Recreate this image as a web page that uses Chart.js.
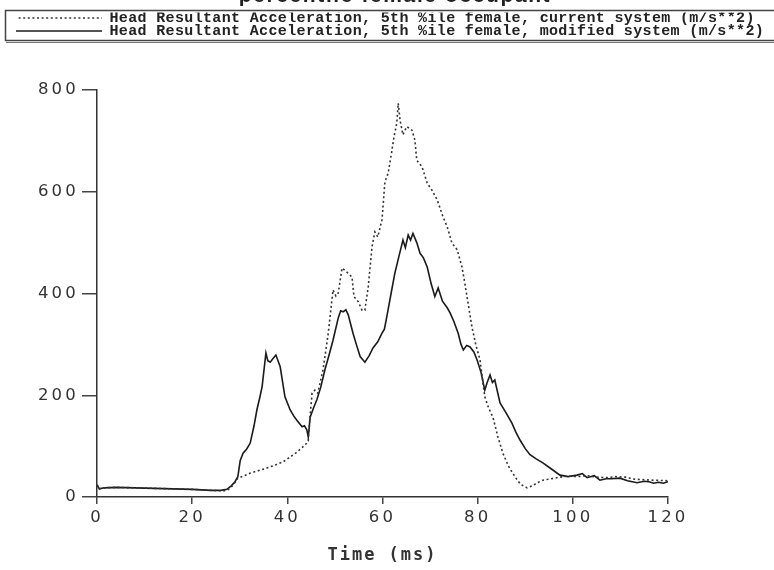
<!DOCTYPE html>
<html><head><meta charset="utf-8">
<script src="https://cdn.jsdelivr.net/npm/chart.js@4.4.1/dist/chart.umd.min.js"></script>
<style>html,body{margin:0;padding:0;background:#fff;}#wrap{width:774px;height:570px;position:relative;}</style>
</head><body><div id="wrap"><canvas id="c" width="774" height="570"></canvas></div>
<script>
const titleText = 'percentile female occupant';
const seriesLabels = [
  'Head Resultant Acceleration, 5th %ile female, current system (m/s**2)',
  'Head Resultant Acceleration, 5th %ile female, modified system (m/s**2)'
];
const xAxisTitle = 'Time (ms)';
const xTickRange = [0, 120, 20];
const yTickRange = [0, 800, 200];

const currentTime = [0,0.5,1.5,4,8,12,16,20,24,26.5,27.5,28.5,29.6,31,32.2,34,35.7,37.5,39.1,40.5,42,43.2,44,44.4,44.7,45.2,45.8,46.4,47.5,48.6,49.6,50.2,50.7,51.5,52.5,53.6,54,54.9,55.7,56.3,57,57.8,58.4,59,59.9,60.5,61.2,62,62.3,63,63.3,63.7,64.3,65.1,66.2,66.8,67.2,68.3,69.4,70.4,71.5,72.7,73.6,74.6,75.7,76.7,77.3,78,78.8,79.6,80.5,81.5,82.3,83.2,84.2,85.3,86.5,87.9,89,90.4,91.5,92.5,93.7,95.5,97.3,99,101,103,105,107,109,111,113,115,117,120];
const currentAccel = [24,16,18,19,18,17,16,15,13,12,14,22,37,42,47,52,57,63,69,78,88,98,105,112,150,204,210,204,250,322,407,395,401,450,442,432,394,384,367,367,413,492,521,511,545,619,637,682,702,735,774,740,712,728,721,702,662,649,617,603,584,551,531,499,486,452,420,380,334,300,269,197,175,157,120,86,60,39,25,18,22,28,33,36,39,41,40,42,39,38,40,39,35,34,33,32];

const modifiedTime = [0,0.5,1.5,4,8,12,16,20,24,26,27.3,28.2,29,29.6,30.1,30.7,31.5,32.2,33,33.6,34.2,34.7,35.5,35.9,36.4,37,37.6,38.5,39.5,40.6,41.3,42,42.5,43.1,43.6,44.1,44.4,44.8,45.5,46.2,47,47.9,48.8,49.6,50.7,51.2,51.7,52.3,52.8,53.3,53.8,54.5,55.3,56.3,57.2,58,59,59.9,60.4,60.9,61.8,62.6,63.5,64.3,64.8,65.4,65.9,66.4,67.2,67.9,68.6,69.4,70.2,71,71.7,72.6,73.6,74.2,75,75.9,76.5,77,77.7,78.4,79.2,79.9,80.7,81.5,82,82.6,83.1,83.6,84.7,86,87.2,88,88.9,90,91,92.3,93.7,95.5,97.3,99,100.9,102,103,104.5,105.7,107,108,109.9,111.5,113.5,115,116,117,118,119,120];
const modifiedAccel = [24,16,18,19,18,17,16,15,13,13,15,22,30,40,72,86,95,106,140,171,195,217,283,268,265,272,279,256,197,171,160,151,145,138,140,132,118,157,175,191,215,250,280,308,352,366,364,368,358,340,322,300,276,265,278,293,305,322,330,354,400,440,475,505,490,515,505,518,500,479,470,452,420,394,411,385,372,362,345,322,300,289,298,295,285,269,245,210,225,240,225,230,185,165,145,128,112,95,83,75,67,55,43,40,43,46,38,42,33,36,36,37,32,28,31,30,27,29,27,30];

// letter spacing per font to mimic the wide plotter lettering
(function(){
  const proto = CanvasRenderingContext2D.prototype;
  const of = proto.fillText, om = proto.measureText;
  function sp(f){
    if (f.indexOf('DejaVu Sans Mono') >= 0) return '2px';
    if (f.indexOf('DejaVu Sans') >= 0) return '3.2px';
    if (f.indexOf('Liberation Mono') >= 0) return '0.35px';
    if (f.indexOf('Liberation Sans') >= 0) return '1.6px';
    return '0px';
  }
  proto.fillText = function(t, x, y, m){ try{ this.letterSpacing = sp(this.font); }catch(e){} return m === undefined ? of.call(this, t, x, y) : of.call(this, t, x, y, m); };
  proto.measureText = function(t){ try{ this.letterSpacing = sp(this.font); }catch(e){} return om.call(this, t); };
})();

const PLOT_TOP = 90, PLOT_BOTTOM = 497, PLOT_LEFT = 97, PLOT_RIGHT = 668, W = 774, H = 570, PAD_LEFT = 16;
const SAMPLE_W = 88;

// dotted legend sample (legend symbol only)
function dottedSample(){
  const cv = document.createElement('canvas');
  cv.width = SAMPLE_W; cv.height = 4;
  const g = cv.getContext('2d');
  g.strokeStyle = '#333'; g.lineWidth = 1.6;
  g.setLineDash([2, 2.6]);
  g.beginPath(); g.moveTo(0, 2); g.lineTo(SAMPLE_W, 2); g.stroke();
  return cv;
}

const legendBox = {
  id: 'legendBox',
  afterDraw(chart){
    const c = chart.ctx;
    c.save();
    c.strokeStyle = '#444';
    c.lineWidth = 1.5;
    c.strokeRect(5.5, 10.5, 800, 30);
    c.strokeStyle = '#777';
    c.lineWidth = 1;
    c.beginPath(); c.moveTo(6, 42.5); c.lineTo(774, 42.5); c.stroke();
    c.restore();
  }
};

new Chart(document.getElementById('c'), {
  type: 'line',
  data: {
    datasets: [
      { label: seriesLabels[0], data: currentTime.map((t,i)=>({x:t, y:currentAccel[i]})),
        borderColor: '#333', borderWidth: 1.6, borderDash: [2, 2.6], pointRadius: 0, pointStyle: dottedSample(), tension: 0, fill: false },
      { label: seriesLabels[1], data: modifiedTime.map((t,i)=>({x:t, y:modifiedAccel[i]})),
        borderColor: '#1a1a1a', borderWidth: 1.6, pointRadius: 0, pointStyle: 'line', tension: 0, fill: false }
    ]
  },
  options: {
    responsive: false, animation: false, devicePixelRatio: 1,
    layout: { padding: { left: PAD_LEFT, right: 0, top: 0, bottom: 0 }, autoPadding: false },
    plugins: {
      tooltip: { enabled: false },
      title: { display: true, text: titleText, color: '#222',
        font: { family: 'Liberation Sans', size: 21, lineHeight: 1.2 },
        padding: { top: -16, bottom: 3.3 } },
      legend: { display: true, position: 'top', align: 'start',
        labels: { color: '#222', font: { family: 'Liberation Mono', size: 15, weight: 'bold' },
          usePointStyle: true, pointStyleWidth: SAMPLE_W, boxHeight: 15, padding: -2 } }
    },
    scales: {
      x: { type: 'linear', position: 'bottom', min: xTickRange[0], max: xTickRange[1],
        ticks: { stepSize: xTickRange[2], color: '#333', padding: 4, maxRotation: 0,
          font: { family: 'DejaVu Sans', size: 16.5 } },
        grid: { drawOnChartArea: false, drawTicks: true, tickLength: 7, color: '#444', lineWidth: 1.5 },
        border: { display: true, color: '#333', width: 1.5 },
        title: { display: true, text: xAxisTitle, color: '#333',
          font: { family: 'DejaVu Sans Mono', size: 17, weight: 'bold' }, padding: { top: 0, bottom: 4 } },
        afterFit(s){ s.height = H - PLOT_BOTTOM; } },
      y: { type: 'linear', position: 'left', min: yTickRange[0], max: yTickRange[1],
        ticks: { stepSize: yTickRange[2], color: '#333', padding: 3,
          font: { family: 'DejaVu Sans', size: 16.5 } },
        grid: { drawOnChartArea: false, drawTicks: true, tickLength: 15, color: '#444', lineWidth: 1.5 },
        border: { display: true, color: '#333', width: 1.5 },
        afterFit(s){ s.width = PLOT_LEFT - PAD_LEFT; } },
      xTop: { type: 'linear', position: 'top', display: true,
        ticks: { display: false }, grid: { display: false, drawTicks: false }, border: { display: false },
        afterFit(s){ const ch = s.chart; const used = (ch.titleBlock ? ch.titleBlock.height : 0) + (ch.legend ? ch.legend.height : 0); s.height = Math.max(0, PLOT_TOP - used); } },
      yR: { type: 'linear', position: 'right', display: true,
        ticks: { display: false }, grid: { display: false, drawTicks: false }, border: { display: false },
        afterFit(s){ s.width = W - PLOT_RIGHT; } }
    }
  },
  plugins: [legendBox]
});
</script></body></html>
